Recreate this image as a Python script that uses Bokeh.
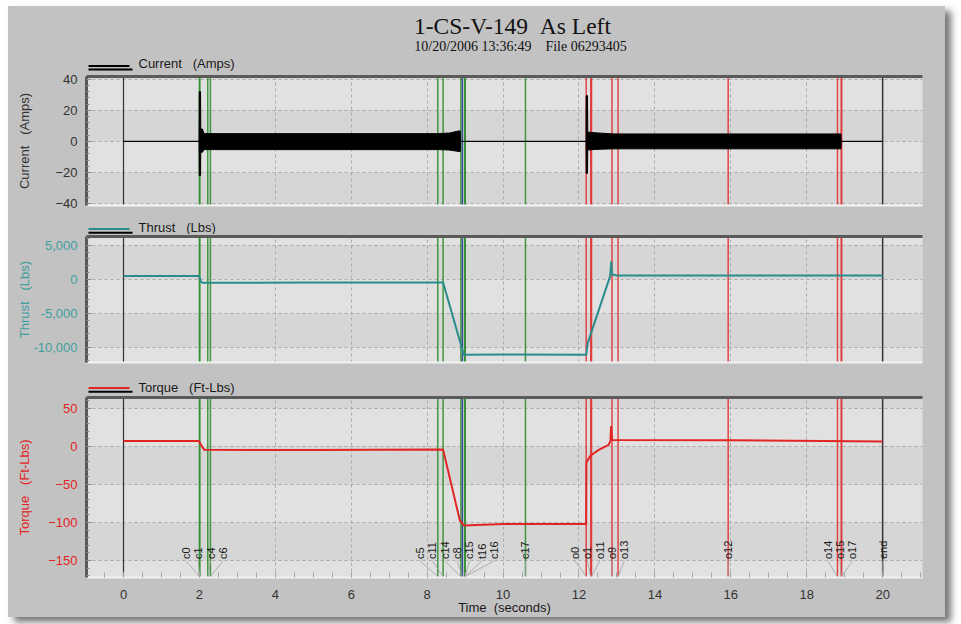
import numpy as np
from bokeh.plotting import figure
from bokeh.layouts import column, row
from bokeh.models import (Range1d, LinearAxis, Span, SingleIntervalTicker, FixedTicker,
                          NumeralTickFormatter, Spacer, Grid)
from bokeh.embed import file_html
from bokeh.resources import INLINE
from bokeh.core.properties import value

# ---------------- data ----------------
title_text = "1-CS-V-149 \u00a0As Left"
subtitle_text = "10/20/2006 13:36:49 \u00a0\u00a0\u00a0File 06293405"

# Current (Amps): AC trace drawn as its envelope (upper / lower)
cur_t = [0, 1.99, 1.995, 2.03, 2.035, 2.08, 2.12, 8.3, 8.6, 8.8, 8.87, 8.88,
         12.185, 12.19, 12.225, 12.23, 12.4, 12.9, 18.9, 18.91, 20.0]
cur_hi = [0, 0, 32, 32, 8, 8, 5.0, 5.0, 5.4, 6.6, 6.8, 0,
          0, 29.5, 29.5, 6.0, 5.6, 4.8, 4.8, 0, 0]
cur_lo = [0, 0, -22, -22, -7, -7, -5.3, -5.3, -5.6, -6.4, -6.6, 0,
          0, -20.6, -20.6, -5.6, -5.2, -4.8, -4.8, 0, 0]

# Thrust (Lbs)
thr_t = [0, 1.99, 2.03, 2.08, 5.0, 8.42, 8.86, 8.92, 8.97, 10.0, 12.19, 12.23,
         12.82, 12.85, 12.87, 13.0, 16.0, 20.0]
thr = [470, 470, -250, -520, -480, -480, -9060, -10240, -11100, -11050, -11100, -9390,
       470, 2610, 710, 570, 560, 560]

# Torque (Ft-Lbs)
tor_t = [0, 1.99, 2.03, 2.13, 5.0, 8.42, 8.86, 8.97, 10.0, 12.19, 12.195, 12.3,
         12.52, 12.78, 12.83, 12.845, 12.87, 16.0, 20.0]
tor = [7.5, 7.5, 3.0, -4.3, -4.5, -4.0, -97, -104, -102, -102, -21, -12,
       -4.3, 2.2, 7.5, 27, 8.8, 8.5, 6.6]

# event markers
mk_names = ["c0", "c1", "c4", "c6", "c5", "c11", "c14", "c8", "c15", "t16", "c16", "c17",
            "o0", "o1", "o11", "o9", "o13", "o12", "o14", "o15", "o17", "end"]
mk_times = [2.0, 2.01, 2.22, 2.29, 8.28, 8.42, 8.89, 8.93, 9.0, 9.0, 9.0, 10.59,
            12.19, 12.31, 12.33, 12.87, 13.03, 15.93, 18.81, 18.91, 18.92, 20.0]
mk_kind = ["c", "c", "c", "c", "c", "c", "c", "b", "c", "c", "c", "c",
           "o", "o", "o", "o", "o", "o", "o", "o", "o", "e"]
start_time = 0.0

# ---------------- styles ----------------
W = 937            # figure width
ML, MR = 78, 23    # frame borders
FW = W - ML - MR   # frame width
GRAY = "#c2c2c2"
PLOT_BG = "#e1e1e1"
BAND = "#d6d6d6"
GRID = "#ababab"
FRAME_DARK = "#5a5a5a"
EDGE_LIGHT = "#f2f2f2"
TEAL = "#2b8c8c"
TEAL_TXT = "#3f9f9f"
RED = "#e32424"
KIND_COLOR = {"c": "#2f8f2f", "b": "#27408f", "o": "#e03434", "e": "#222222"}
SANS = "Liberation Sans"
SERIF = "Liberation Serif"

xr = Range1d(-0.975, 21.05)


def deco(h):
    d = figure(width=W, height=h, x_range=Range1d(0, FW), y_range=Range1d(h, 0),
               output_backend="svg", toolbar_location=None,
               x_axis_location=None, y_axis_location=None,
               min_border_left=ML, min_border_right=MR, min_border_top=0, min_border_bottom=0,
               background_fill_color=GRAY, border_fill_color=GRAY, outline_line_color=None,
               styles={"background-color": GRAY})
    d.grid.visible = False
    return d


def legend_row(d, ytxt, yup, ylow, label, up_color):
    d.segment(x0=[2], y0=[ylow], x1=[46], y1=[ylow], line_color="black", line_width=2)
    d.segment(x0=[2], y0=[yup], x1=[43], y1=[yup], line_color=up_color, line_width=2)
    d.text(x=[52], y=[ytxt], text=[label], text_font=value(SANS), text_font_size="13px",
           text_color="#1a1a1a", text_baseline="middle", text_align="left")


def light_axis():
    return LinearAxis(ticker=FixedTicker(ticks=[]), axis_line_color=EDGE_LIGHT, axis_line_width=2,
                      major_tick_in=0, major_tick_out=0, minor_tick_in=0, minor_tick_out=0,
                      major_label_standoff=0, major_label_text_font_size="0px")


def panel(height, yr, top, bottom, ylab, lab_color, tick_color, interval, lab_standoff,
          fmt=None, with_x=False):
    p = figure(width=W, height=height, x_range=xr, y_range=Range1d(*yr),
               output_backend="svg", toolbar_location=None,
               x_axis_location=None, y_axis_location=None,
               min_border_left=ML, min_border_right=MR, min_border_top=top,
               min_border_bottom=bottom,
               background_fill_color=PLOT_BG, border_fill_color=GRAY, outline_line_color=None,
               styles={"background-color": GRAY})
    p.grid.visible = False
    yt = SingleIntervalTicker(interval=interval, num_minor_ticks=5)
    xt = SingleIntervalTicker(interval=2, num_minor_ticks=4)
    ya = LinearAxis(ticker=yt, axis_label=ylab, axis_line_color=FRAME_DARK, axis_line_width=3,
                    major_tick_in=5, major_tick_out=0, minor_tick_in=3, minor_tick_out=0,
                    major_tick_line_color="#8a8a8a", minor_tick_line_color="#8a8a8a",
                    major_label_standoff=9, major_label_text_font=SANS,
                    major_label_text_font_size="13px", major_label_text_color=tick_color,
                    axis_label_text_font=SANS, axis_label_text_font_size="13px",
                    axis_label_text_font_style="normal", axis_label_text_color=lab_color,
                    axis_label_standoff=lab_standoff)
    if fmt:
        ya.formatter = NumeralTickFormatter(format=fmt)
    p.add_layout(ya, "left")
    p.add_layout(Grid(dimension=1, ticker=yt, grid_line_color=GRID, grid_line_dash="3 3",
                      band_fill_color=BAND, band_fill_alpha=1.0))
    p.add_layout(Grid(dimension=0, ticker=xt, grid_line_color=GRID, grid_line_dash="3 3"))
    top_ax = LinearAxis(ticker=FixedTicker(ticks=[]), axis_line_color=FRAME_DARK, axis_line_width=3,
                        major_tick_in=0, major_tick_out=0, minor_tick_in=0, minor_tick_out=0,
                        major_label_standoff=0, major_label_text_font_size="0px")
    p.add_layout(top_ax, "above")
    if with_x:
        xa = LinearAxis(ticker=xt, axis_label="Time\u00a0 (seconds)", axis_line_color=EDGE_LIGHT,
                        axis_line_width=2, major_tick_in=5, major_tick_out=0, minor_tick_in=5,
                        minor_tick_out=0, major_tick_line_color="#a5a5a5",
                        minor_tick_line_color="#a5a5a5", major_label_standoff=12,
                        major_label_text_font=SANS, major_label_text_font_size="13px",
                        major_label_text_color="#333333", axis_label_text_font=SANS,
                        axis_label_text_font_size="13px", axis_label_text_font_style="normal",
                        axis_label_text_color="#1a1a1a", axis_label_standoff=-2)
        p.add_layout(xa, "below")
    else:
        p.add_layout(light_axis(), "below")
    # event marker lines
    p.add_layout(Span(location=start_time, dimension="height", line_color="#333333",
                      line_width=1.2, level="underlay"))
    for t, k in zip(mk_times, mk_kind):
        p.add_layout(Span(location=t, dimension="height", line_color=KIND_COLOR[k],
                          line_width=1.5, line_alpha=0.9, level="underlay"))
    return p


# ---------------- header ----------------
hdr = deco(65)
hdr.text(x=[426], y=[19], text=[title_text], text_font=value(SERIF), text_font_size="23.5px",
         text_color="#111111", text_align="center", text_baseline="middle")
hdr.text(x=[434], y=[40], text=[subtitle_text], text_font=value(SERIF), text_font_size="14px",
         text_color="#111111", text_align="center", text_baseline="middle")
legend_row(hdr, 57.3, 59.5, 63, "Current\u00a0\u00a0 (Amps)", "black")

# ---------------- current ----------------
p1 = panel(142, (-41.3, 41.8), 5, 8, "Current\u00a0\u00a0 (Amps)", "#333333", "#333333", 20, 20)
p1.varea(x=cur_t, y1=cur_lo, y2=cur_hi, fill_color="black")
p1.line(cur_t, cur_hi, line_color="black", line_width=1)
p1.line(cur_t, cur_lo, line_color="black", line_width=1)

leg2 = deco(21)
legend_row(leg2, 13.5, 15.5, 19.2, "Thrust\u00a0\u00a0 (Lbs)", TEAL)

# ---------------- thrust ----------------
p2 = panel(142, (-12240, 6300), 2, 14, "Thrust\u00a0\u00a0 (Lbs)", TEAL_TXT, TEAL_TXT, 5000, -2,
           fmt="0,0")
p2.line(thr_t, thr, line_color=TEAL, line_width=2)

leg3 = deco(19)
legend_row(leg3, 10.5, 11.5, 15.2, "Torque\u00a0\u00a0 (Ft-Lbs)", RED)

# ---------------- torque ----------------
p3 = panel(222, (-172.3, 64.6), 2, 40, "Torque\u00a0\u00a0 (Ft-Lbs)", RED, RED, 50, 13, with_x=True)
p3.line(tor_t, tor, line_color=RED, line_width=2)

# marker labels, spread apart so they do not overlap
gap = 0.325
order = sorted(range(len(mk_times)), key=lambda i: mk_times[i])
clusters = []
for i in order:
    clusters.append([i])
    while len(clusters) > 1:
        a, b = clusters[-2], clusters[-1]
        ca = np.mean([mk_times[j] for j in a])
        cb = np.mean([mk_times[j] for j in b])
        a_end = ca + (len(a) - 1) / 2 * gap
        b_start = cb - (len(b) - 1) / 2 * gap
        if b_start - a_end < gap:
            clusters[-2:] = [a + b]
        else:
            break
lab_x = [0.0] * len(mk_times)
for cl in clusters:
    c = np.mean([mk_times[j] for j in cl])
    for k, j in enumerate(cl):
        lab_x[j] = c + (k - (len(cl) - 1) / 2) * gap

p3.segment(x0=lab_x, y0=[-150.5] * len(lab_x), x1=mk_times, y1=[-171] * len(lab_x),
           line_color="#a0a0a0", line_width=0.8)
p3.text(x=lab_x, y=[-148] * len(lab_x), text=mk_names, angle=np.pi / 2,
        text_font=value(SANS), text_font_size="11px", text_color="#1a1a1a",
        text_align="left", text_baseline="middle")

inner = column(hdr, p1, leg2, p2, leg3, p3, spacing=0,
               styles={"box-shadow": "6px 5px 7px rgba(0,0,0,0.55)",
                       "background-color": GRAY})
layout = column(Spacer(width=10, height=6),
                row(Spacer(width=8, height=10), inner, spacing=0), spacing=0)

open("out.html", "w").write(file_html(layout, INLINE))
